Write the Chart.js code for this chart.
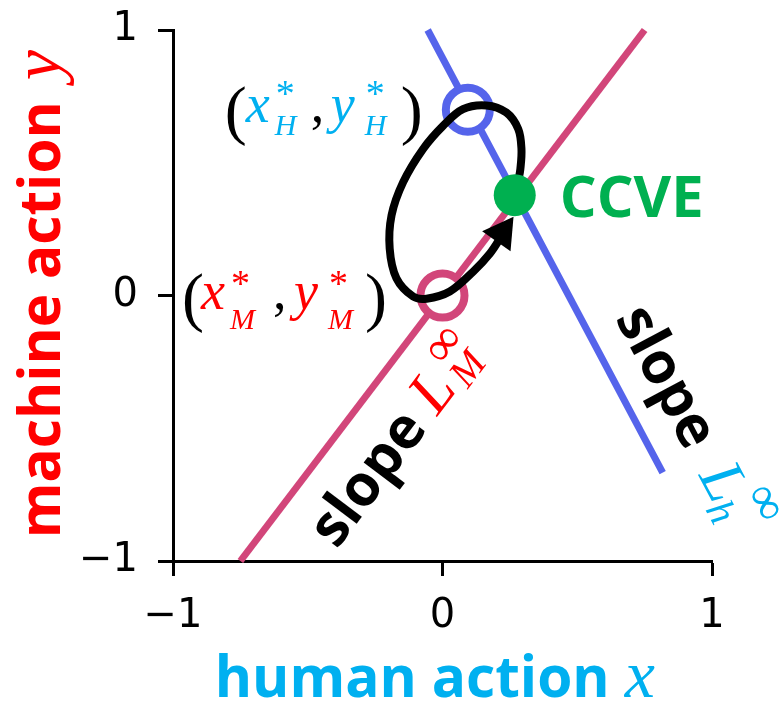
<!DOCTYPE html>
<html lang="en">
<head>
<meta charset="UTF-8">
<title>CCVE</title>
<script src="https://cdn.jsdelivr.net/npm/chart.js@4.4.0/dist/chart.umd.min.js"></script>
<style>
  html, body { margin: 0; padding: 0; background: #fff; }
</style>
</head>
<body>
<canvas id="chart" width="783" height="706"></canvas>
<script>
// axis ticks
const axisTicks = [-1, 0, 1];

// best-response lines
const mLineX = [-0.75, 0.75];
const mLineY = [-1, 1];
const hLineX = [-0.055, 0.817];
const hLineY = [1, -0.667];

// equilibrium points
const mStarX = [0];
const mStarY = [0];
const hStarX = [0.094];
const hStarY = [0.70];
const ccveX = [0.268];
const ccveY = [0.378];

// learning trajectory
const loopX = [0.281, 0.289, 0.293, 0.281, 0.237, 0.163, 0.076, 0.002, -0.072, -0.146, -0.189, -0.196, -0.171, -0.109, -0.059, 0.027, 0.114, 0.176, 0.22];
const loopY = [0.43, 0.477, 0.552, 0.627, 0.689, 0.716, 0.702, 0.639, 0.552, 0.427, 0.302, 0.177, 0.065, -0.004, -0.012, 0.015, 0.090, 0.158, 0.225];
const arrowX = [0.221];
const arrowY = [0.235];

const RED = '#ff0000', CYAN = '#00b0f0', GREEN = '#00b050';
const PINK = '#d2467a', BLUE = '#5564eb';
const SERIF = '"Liberation Serif", serif';
const SANS = '"Open Sans", sans-serif';

function pts(xs, ys) { return xs.map((v, i) => ({ x: v, y: ys[i] })); }

// text labels: anchor in data units, offsets in px along/up the text baseline
function starLabel(col, sub, d) {
  return [
    { t: '(', size: 66, fam: SERIF, col: '#000', dx: 0, dy: -10 },
    { t: 'x', size: 54, fam: SERIF, st: 'italic', col: col, dx: d[0], dy: 0 },
    { t: sub, size: 30, fam: SERIF, st: 'italic', col: col, dx: d[1], dy: d[6] },
    { t: '*', size: 38, fam: SERIF, col: col, dx: d[1] + 1, dy: d[7] },
    { t: ',', size: 54, fam: SERIF, col: '#000', dx: d[2], dy: 0 },
    { t: 'y', size: 54, fam: SERIF, st: 'italic', col: col, dx: d[3], dy: 0 },
    { t: sub, size: 30, fam: SERIF, st: 'italic', col: col, dx: d[4], dy: d[6] },
    { t: '*', size: 38, fam: SERIF, col: col, dx: d[4] + 1, dy: d[7] },
    { t: ')', size: 66, fam: SERIF, col: '#000', dx: d[5], dy: -10 }
  ];
}

const labels = [
  { at: [-0.808, 0.652], angle: 0, runs: starLabel(CYAN, 'H', [21, 50, 86, 106, 140, 176, -13, 16]) },
  { at: [-0.967, -0.052], angle: 0, runs: starLabel(RED, 'M', [19, 48, 91, 112, 146, 183, -20, 13]) },
  { at: [0.435, 0.296], angle: 0, runs: [
    { t: 'CCVE', size: 58, fam: SANS, st: 'bold', col: GREEN, dx: 0, dy: 0, fit: 144 }
  ] },
  { at: [-0.392, -0.959], angle: -53, runs: [
    { t: 'slope', size: 57, fam: SANS, st: 'bold', col: '#000', dx: 0, dy: 0, fit: 152 },
    { t: 'L', size: 62, fam: SERIF, st: 'italic', col: RED, dx: 167, dy: 0 },
    { t: '\u221e', size: 50, fam: SERIF, col: RED, dx: 211, dy: 24 },
    { t: 'M', size: 40, fam: SERIF, st: 'italic', col: RED, dx: 207, dy: -8 }
  ] },
  { at: [0.639, -0.086], angle: 62, runs: [
    { t: 'slope', size: 57, fam: SANS, st: 'bold', col: '#000', dx: 0, dy: 0, fit: 152 },
    { t: 'L', size: 62, fam: SERIF, st: 'italic', col: CYAN, dx: 178, dy: 0 },
    { t: 'h', size: 40, fam: SERIF, st: 'italic', col: CYAN, dx: 211, dy: -10 },
    { t: '\u221e', size: 50, fam: SERIF, col: CYAN, dx: 216, dy: 32 }
  ] },
  // axis titles
  { at: [-0.845, -1.513], angle: 0, runs: [
    { t: 'human action', size: 57, fam: SANS, st: 'bold', col: CYAN, dx: 0, dy: 0, fit: 395 },
    { t: 'x', size: 68, fam: SERIF, st: 'italic', col: CYAN, dx: 410, dy: 0 }
  ] },
  { at: [-1.42, -0.914], angle: -90, runs: [
    { t: 'machine action', size: 57, fam: SANS, st: 'bold', col: RED, dx: 0, dy: 0, fit: 437 },
    { t: 'y', size: 68, fam: SERIF, st: 'italic', col: RED, dx: 458, dy: 0 }
  ] }
];

const labelPlugin = {
  id: 'labels',
  afterDraw(chart) {
    const ctx = chart.ctx;
    const sx = chart.scales.x, sy = chart.scales.y;
    labels.forEach(lb => {
      ctx.save();
      ctx.translate(sx.getPixelForValue(lb.at[0]), sy.getPixelForValue(lb.at[1]));
      ctx.rotate(lb.angle * Math.PI / 180);
      ctx.textAlign = 'left';
      ctx.textBaseline = 'alphabetic';
      lb.runs.forEach(r => {
        let size = r.size;
        const st = r.st || 'normal';
        ctx.font = `${st} ${size}px ${r.fam}`;
        if (r.fit) {
          size = size * r.fit / ctx.measureText(r.t).width;
          ctx.font = `${st} ${size}px ${r.fam}`;
        }
        ctx.fillStyle = r.col;
        ctx.fillText(r.t, r.dx, -r.dy);
      });
      ctx.restore();
    });
  }
};

function tickOpts(pad) {
  return {
    color: '#000',
    padding: pad,
    maxRotation: 0,
    font: { family: '"DejaVu Sans"', size: 40 },
    callback: v => String(v).replace('-', '\u2212')
  };
}

function axis(extra) {
  return Object.assign({
    type: 'linear',
    min: axisTicks[0],
    max: axisTicks[axisTicks.length - 1],
    afterBuildTicks: s => { s.ticks = axisTicks.map(v => ({ value: v })); },
    grid: { drawOnChartArea: false, drawTicks: true, tickLength: 15, tickWidth: 3, tickColor: '#000' },
    border: { display: true, width: 3, color: '#000' }
  }, extra);
}

new Chart(document.getElementById('chart'), {
  type: 'scatter',
  data: {
    datasets: [
      { data: pts(ccveX, ccveY), pointRadius: 21, pointBackgroundColor: GREEN, pointBorderWidth: 0, showLine: false },
      { data: pts(arrowX, arrowY), pointStyle: 'triangle', pointRotation: 35, pointRadius: 20,
        pointBackgroundColor: '#000', pointBorderWidth: 0, showLine: false },
      { data: pts(loopX, loopY), showLine: true, borderColor: '#000', borderWidth: 8, tension: 0.35,
        borderCapStyle: 'round', borderJoinStyle: 'round', pointRadius: 0 },
      { data: pts(hStarX, hStarY), pointRadius: 22, pointBackgroundColor: '#fff', pointBorderColor: BLUE, pointBorderWidth: 8, showLine: false },
      { data: pts(mStarX, mStarY), pointRadius: 22, pointBackgroundColor: '#fff', pointBorderColor: PINK, pointBorderWidth: 8, showLine: false },
      { data: pts(hLineX, hLineY), showLine: true, borderColor: BLUE, borderWidth: 7, pointRadius: 0 },
      { data: pts(mLineX, mLineY), showLine: true, borderColor: PINK, borderWidth: 7, pointRadius: 0 }
    ]
  },
  options: {
    responsive: false,
    animation: false,
    clip: false,
    layout: { padding: { left: 0, right: 71, top: 27, bottom: 0 } },
    plugins: { legend: { display: false }, tooltip: { enabled: false } },
    scales: {
      x: axis({ position: 'bottom', ticks: tickOpts(17),
        afterFit: s => { s.height = 145; s.paddingLeft = 0; s.paddingRight = 0; } }),
      y: axis({ position: 'left', ticks: tickOpts(20),
        afterFit: s => { s.width = 173; s.paddingTop = 0; s.paddingBottom = 0; } })
    }
  },
  plugins: [labelPlugin]
});
</script>
</body>
</html>
